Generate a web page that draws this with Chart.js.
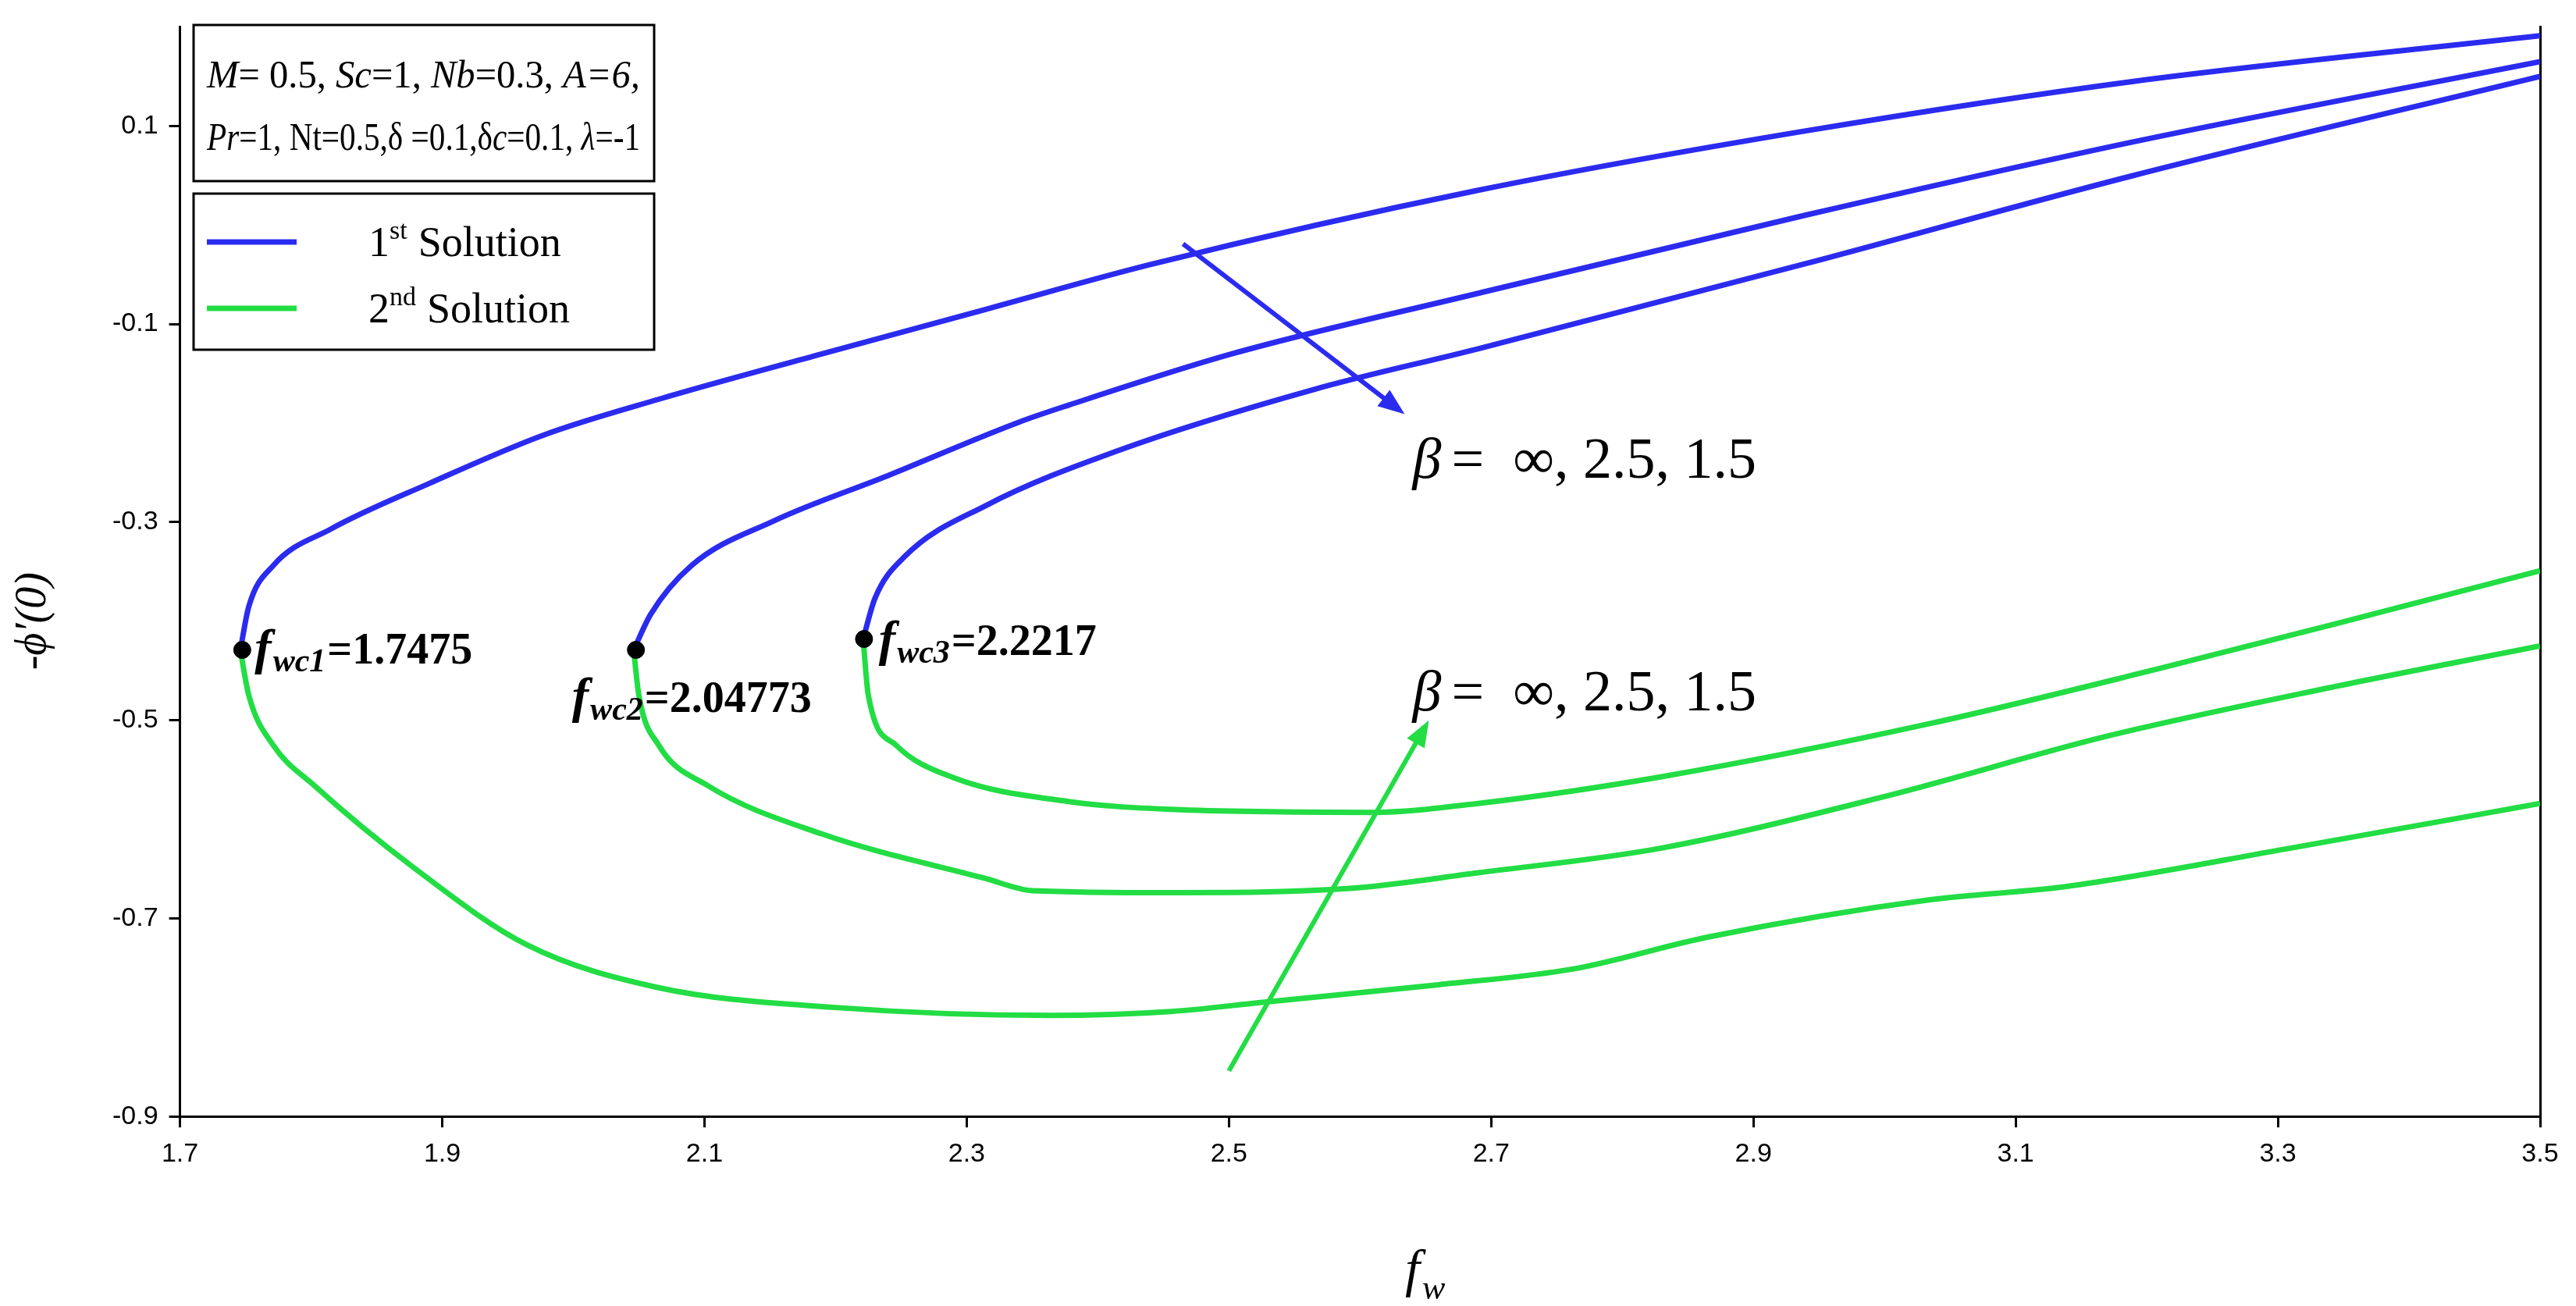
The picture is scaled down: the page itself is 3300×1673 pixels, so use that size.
<!DOCTYPE html>
<html>
<head>
<meta charset="utf-8">
<script src="https://cdn.jsdelivr.net/npm/chart.js@4"></script>
<style>
  html, body { margin: 0; padding: 0; background: #fff; }
  #wrap { width: 3300px; height: 1673px; }
</style>
</head>
<body>
<div id="wrap"><canvas id="chart"></canvas></div>
<script>
// ---- data ----
const blue1X = [1.746, 1.7525, 1.771, 1.815, 1.89, 1.9775, 2.065, 2.19, 2.315, 2.44, 2.69, 2.94, 3.19, 3.5];
const blue1Y = [-0.429, -0.385, -0.344, -0.307, -0.261, -0.212, -0.176, -0.130, -0.085, -0.040, 0.035, 0.095, 0.145, 0.191];
const blue2X = [2.046, 2.059, 2.09, 2.1525, 2.24, 2.34, 2.3775, 2.5025, 2.69, 2.94, 3.19, 3.5];
const blue2Y = [-0.429, -0.393, -0.344, -0.299, -0.253, -0.199, -0.182, -0.130, -0.069, 0.010, 0.084, 0.165];
const blue3X = [2.221, 2.23, 2.2525, 2.315, 2.415, 2.565, 2.69, 2.94, 3.19, 3.5];
const blue3Y = [-0.418, -0.377, -0.335, -0.283, -0.228, -0.166, -0.125, -0.039, 0.050, 0.150];
const green1X = [1.746, 1.7525, 1.771, 1.8025, 1.8775, 1.965, 2.065, 2.2, 2.365, 2.456, 2.524, 2.66, 2.763, 2.865, 3.036, 3.138, 3.31, 3.5];
const green1Y = [-0.429, -0.475, -0.525, -0.566, -0.648, -0.727, -0.770, -0.790, -0.798, -0.794, -0.785, -0.767, -0.751, -0.719, -0.681, -0.668, -0.629, -0.584];
const green2X = [2.046, 2.05, 2.065, 2.1025, 2.19, 2.315, 2.35, 2.456, 2.59, 2.69, 2.83, 3.0, 3.17, 3.34, 3.5];
const green2Y = [-0.429, -0.475, -0.525, -0.566, -0.615, -0.660, -0.672, -0.674, -0.670, -0.654, -0.629, -0.577, -0.516, -0.467, -0.425];
const green3X = [2.221, 2.225, 2.246, 2.29, 2.3775, 2.456, 2.61, 2.69, 2.83, 3.036, 3.206, 3.34, 3.5];
const green3Y = [-0.418, -0.475, -0.525, -0.558, -0.582, -0.590, -0.593, -0.584, -0.557, -0.503, -0.449, -0.404, -0.349];
const critX = [1.7475, 2.04773, 2.2217];
const critY = [-0.429, -0.429, -0.418];
const critLabels = ['1.7475', '2.04773', '2.2217'];
const yTicks = [-0.9, -0.7, -0.5, -0.3, -0.1, 0.1];

const BLUE = '#2b2bf0';
const GREEN = '#22dd44';

function pts(xs, ys) { return xs.map(function (x, i) { return { x: x, y: ys[i] }; }); }
function line(xs, ys, color) {
  return { type: 'line', data: pts(xs, ys), borderColor: color, borderWidth: 7, pointRadius: 0,
           fill: false, cubicInterpolationMode: 'monotone' };
}

// ---- annotations: boxes, arrows, labels, axis titles ----
const decor = {
  id: 'decor',
  afterDraw: function (chart) {
    const c = chart.ctx, xs = chart.scales.x, ys = chart.scales.y;
    const X = function (v) { return xs.getPixelForValue(v); };
    const Y = function (v) { return ys.getPixelForValue(v); };
    c.save();

    function arrow(x1, y1, x2, y2, color) {
      const a = Math.atan2(y2 - y1, x2 - x1), L = 34, W = 13;
      c.strokeStyle = color; c.fillStyle = color; c.lineWidth = 6;
      c.beginPath(); c.moveTo(x1, y1);
      c.lineTo(x2 - L * 0.8 * Math.cos(a), y2 - L * 0.8 * Math.sin(a)); c.stroke();
      c.beginPath(); c.moveTo(x2, y2);
      c.lineTo(x2 - L * Math.cos(a) + W * Math.sin(a), y2 - L * Math.sin(a) - W * Math.cos(a));
      c.lineTo(x2 - L * Math.cos(a) - W * Math.sin(a), y2 - L * Math.sin(a) + W * Math.cos(a));
      c.closePath(); c.fill();
    }
    arrow(X(2.465), Y(-0.019), X(2.634), Y(-0.191), BLUE);
    arrow(X(2.5), Y(-0.854), X(2.6525), Y(-0.5), GREEN);

    function beta(x, y) {
      c.fillStyle = '#000'; c.textBaseline = 'alphabetic'; c.textAlign = 'left';
      c.font = 'italic 74px "Liberation Serif"';
      c.fillText('β', x, y);
      c.font = '74px "Liberation Serif"';
      c.fillText('=  ∞, 2.5, 1.5', x + 50, y);
    }
    beta(X(2.64), Y(-0.255));
    beta(X(2.64), Y(-0.49));

    // critical point labels
    function fwc(x, y, n, val) {
      c.fillStyle = '#000'; c.textBaseline = 'alphabetic'; c.textAlign = 'left';
      c.font = 'bold italic 64px "Liberation Serif"';
      c.fillText('f', x, y);
      let w = c.measureText('f').width;
      c.font = 'bold italic 42px "Liberation Serif"';
      c.fillText('wc' + n, x + w + 2, y + 10);
      w += c.measureText('wc' + n).width + 4;
      c.font = 'bold 56px "Liberation Serif"';
      c.fillText('=' + val, x + w, y);
    }
    fwc(X(1.757), Y(-0.427) + 20, 1, critLabels[0]);
    fwc(X(1.999), Y(-0.427) + 82, 2, critLabels[1]);
    fwc(X(2.233), Y(-0.418) + 20, 3, critLabels[2]);

    // parameter box
    c.strokeStyle = '#000'; c.lineWidth = 3;
    c.fillStyle = '#fff';
    c.fillRect(248, 32, 590, 200); c.strokeRect(248, 32, 590, 200);
    c.fillStyle = '#000';
    const row = function (parts, x, y) {
      let total = 0;
      parts.forEach(function (p) {
        c.font = (p[1] ? 'italic ' : '') + '50px "Liberation Serif"';
        total += c.measureText(p[0]).width;
      });
      const k = Math.min(1, 555 / total);
      c.save(); c.translate(x, y); c.scale(k, 1);
      let px = 0;
      parts.forEach(function (p) {
        c.font = (p[1] ? 'italic ' : '') + '50px "Liberation Serif"';
        c.fillText(p[0], px, 0); px += c.measureText(p[0]).width;
      });
      c.restore();
    };
    row([['M', 1], ['= 0.5, ', 0], ['Sc', 1], ['=1, ', 0], ['Nb', 1], ['=0.3, ', 0], ['A', 1], ['=6,', 1]], 265, 112);
    row([['Pr', 1], ['=1, Nt=0.5,δ =0.1,δ', 0], ['c', 1], ['=0.1, ', 0], ['λ', 1], ['=-1', 0]], 265, 192);

    // legend box
    c.fillStyle = '#fff';
    c.fillRect(248, 248, 590, 200); c.strokeRect(248, 248, 590, 200);
    c.lineWidth = 7;
    c.strokeStyle = BLUE; c.beginPath(); c.moveTo(265, 310); c.lineTo(380, 310); c.stroke();
    c.strokeStyle = GREEN; c.beginPath(); c.moveTo(265, 395); c.lineTo(380, 395); c.stroke();
    c.fillStyle = '#000';
    const leg = function (sup, y) {
      let x = 472;
      c.font = '54px "Liberation Serif"'; c.fillText(sup[0], x, y); x += c.measureText(sup[0]).width;
      c.font = '34px "Liberation Serif"'; c.fillText(sup[1], x, y - 22); x += c.measureText(sup[1]).width + 14;
      c.font = '54px "Liberation Serif"'; c.fillText('Solution', x, y);
    };
    leg(['1', 'st'], 328);
    leg(['2', 'nd'], 413);

    // axis titles
    c.font = 'italic 68px "Liberation Serif"'; c.textAlign = 'left';
    c.fillText('f', 1800, 1648);
    c.font = 'italic 44px "Liberation Serif"';
    c.fillText('w', 1822, 1664);
    c.save();
    c.translate(58, Y(-0.4)); c.rotate(-Math.PI / 2);
    c.textAlign = 'center';
    c.font = 'italic 56px "Liberation Serif"';
    c.fillText('-ϕ′(0)', 0, 0);
    c.restore();

    c.restore();
  }
};

new Chart(document.getElementById('chart'), {
  type: 'scatter',
  data: {
    datasets: [
      line(blue1X, blue1Y, BLUE), line(blue2X, blue2Y, BLUE), line(blue3X, blue3Y, BLUE),
      line(green1X, green1Y, GREEN), line(green2X, green2Y, GREEN), line(green3X, green3Y, GREEN),
      { type: 'scatter', data: pts(critX, critY), backgroundColor: '#000', borderColor: '#000',
        pointRadius: 11, order: -1 }
    ]
  },
  options: {
    responsive: true,
    maintainAspectRatio: false,
    animation: false,
    layout: { padding: { left: 130, right: 38, top: 24, bottom: 160 } },
    plugins: { legend: { display: false }, tooltip: { enabled: false } },
    scales: {
      x: {
        type: 'linear', min: 1.7, max: 3.5,
        border: { color: '#000', width: 3 },
        grid: { display: true, drawOnChartArea: false, color: '#000', lineWidth: 3, tickLength: 14 },
        ticks: { stepSize: 0.2, color: '#000', font: { size: 34, family: 'Liberation Sans' }, padding: 14,
                 callback: function (v) { return (Math.round(v * 10) / 10).toFixed(1); } }
      },
      y: {
        type: 'linear', min: -0.9, max: 0.2,
        border: { color: '#000', width: 3 },
        grid: { display: true, drawOnChartArea: false, color: '#000', lineWidth: 3, tickLength: 14 },
        afterBuildTicks: function (axis) { axis.ticks = yTicks.map(function (v) { return { value: v }; }); },
        ticks: { color: '#000', font: { size: 34, family: 'Liberation Sans' }, padding: 14,
                 callback: function (v) { return v.toFixed(1); } }
      },
      y2: {
        type: 'linear', position: 'right', min: -0.9, max: 0.2,
        border: { color: '#000', width: 3 },
        grid: { display: false }, ticks: { display: false }
      }
    }
  },
  plugins: [decor]
});
</script>
</body>
</html>
